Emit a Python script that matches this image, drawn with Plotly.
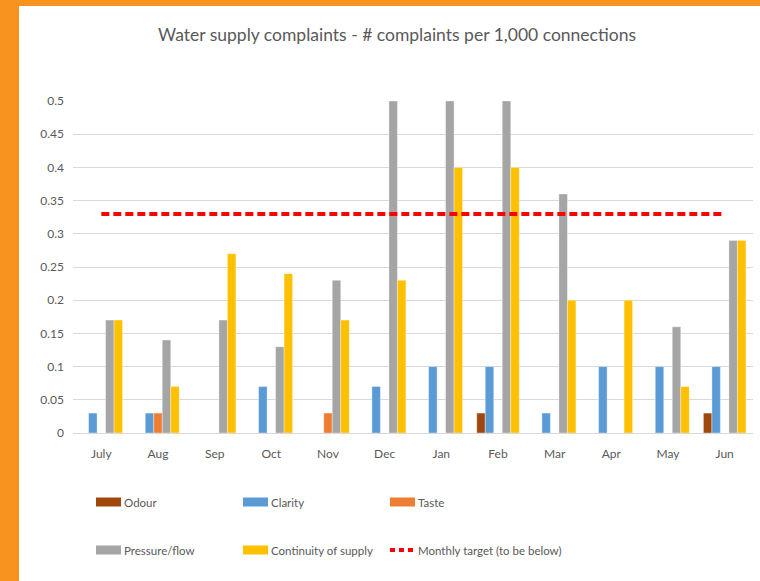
import plotly.graph_objects as go

months = ["July", "Aug", "Sep", "Oct", "Nov", "Dec", "Jan", "Feb", "Mar", "Apr", "May", "Jun"]

odour = [0, 0, 0, 0, 0, 0, 0, 0.03, 0, 0, 0, 0.03]
clarity = [0.03, 0.03, 0, 0.07, 0, 0.07, 0.1, 0.1, 0.03, 0.1, 0.1, 0.1]
taste = [0, 0.03, 0, 0, 0.03, 0, 0, 0, 0, 0, 0, 0]
pressure = [0.17, 0.14, 0.17, 0.13, 0.23, 0.5, 0.5, 0.5, 0.36, 0, 0.16, 0.29]
continuity = [0.17, 0.07, 0.27, 0.24, 0.17, 0.23, 0.4, 0.4, 0.2, 0.2, 0.07, 0.29]
target = [0.33] * 12

y_ticks = [0, 0.05, 0.1, 0.15, 0.2, 0.25, 0.3, 0.35, 0.4, 0.45, 0.5]

series = [
    ("Odour", odour, "#9E480E"),
    ("Clarity", clarity, "#5B9BD5"),
    ("Taste", taste, "#ED7D31"),
    ("Pressure/flow", pressure, "#A5A5A5"),
    ("Continuity of supply", continuity, "#FFC000"),
]

text_color = "#595959"
font_family = "Lato, Open Sans, sans-serif"

W, H = 760, 581
L, R, T, B = 73, 7, 101, 148
pw, ph = W - L - R, H - T - B


def px(x):
    return (x - L) / pw


def py(y):
    return (H - B - y) / ph


fig = go.Figure()

for name, vals, color in series:
    fig.add_trace(go.Bar(
        x=months, y=vals, name=name,
        marker=dict(color=color, line=dict(color="rgba(255,255,255,0.6)", width=0.6)),
        showlegend=False,
    ))

fig.add_trace(go.Scatter(
    x=months, y=target, name="Monthly target (to be below)",
    mode="lines", line=dict(color="#FF0000", width=4, dash="8px,4px"),
    showlegend=False,
))

# orange frame
fig.add_shape(type="rect", xref="paper", yref="paper", layer="below",
              x0=px(0), x1=px(19), y0=py(H), y1=py(0),
              fillcolor="#F7931E", line=dict(width=0))
fig.add_shape(type="rect", xref="paper", yref="paper", layer="below",
              x0=px(0), x1=px(W), y0=py(6), y1=py(0),
              fillcolor="#F7931E", line=dict(width=0))

# manual legend
legend_items = [
    ("Odour", "#9E480E", 96, 502, "bar"),
    ("Clarity", "#5B9BD5", 243, 502, "bar"),
    ("Taste", "#ED7D31", 390, 502, "bar"),
    ("Pressure/flow", "#A5A5A5", 96, 550, "bar"),
    ("Continuity of supply", "#FFC000", 243, 550, "bar"),
    ("Monthly target (to be below)", "#FF0000", 390, 550, "line"),
]
for label, color, lx, ly, kind in legend_items:
    if kind == "bar":
        fig.add_shape(type="rect", xref="paper", yref="paper",
                      x0=px(lx), x1=px(lx + 25), y0=py(ly + 4.5), y1=py(ly - 4.5),
                      fillcolor=color, line=dict(width=0))
    else:
        fig.add_shape(type="line", xref="paper", yref="paper",
                      x0=px(lx), x1=px(lx + 24), y0=py(ly), y1=py(ly),
                      line=dict(color=color, width=4, dash="5px,4px"))
    fig.add_annotation(x=px(lx + 26), y=py(ly), xref="paper", yref="paper",
                       text=label, showarrow=False, xanchor="left", yanchor="middle",
                       font=dict(size=11.5, color=text_color, family=font_family))

fig.update_layout(
    width=W, height=H,
    margin=dict(l=L, r=R, t=T, b=B),
    paper_bgcolor="white",
    plot_bgcolor="white",
    barmode="group",
    bargap=0.25,
    bargroupgap=0,
    title=dict(text="Water supply complaints - # complaints per 1,000 connections",
               xref="container", x=397 / W, xanchor="center",
               yref="container", y=1 - 35 / H, yanchor="middle",
               font=dict(size=17.5, color=text_color, family=font_family)),
    xaxis=dict(showgrid=False, showline=False, ticks="", ticklabelstandoff=12,
               tickfont=dict(size=12, color=text_color, family=font_family)),
    yaxis=dict(range=[0, 0.5], tickvals=y_ticks, ticktext=[f"{v:g}" for v in y_ticks],
               showgrid=True, gridcolor="#D9D9D9", gridwidth=1,
               zeroline=True, zerolinecolor="#D9D9D9", zerolinewidth=1,
               ticks="", ticklabelstandoff=8,
               tickfont=dict(size=12, color=text_color, family=font_family)),
    font=dict(family=font_family, color=text_color),
)

fig.write_html("out.html", config={"displayModeBar": False},
               post_script="document.body.style.margin = '0';")
